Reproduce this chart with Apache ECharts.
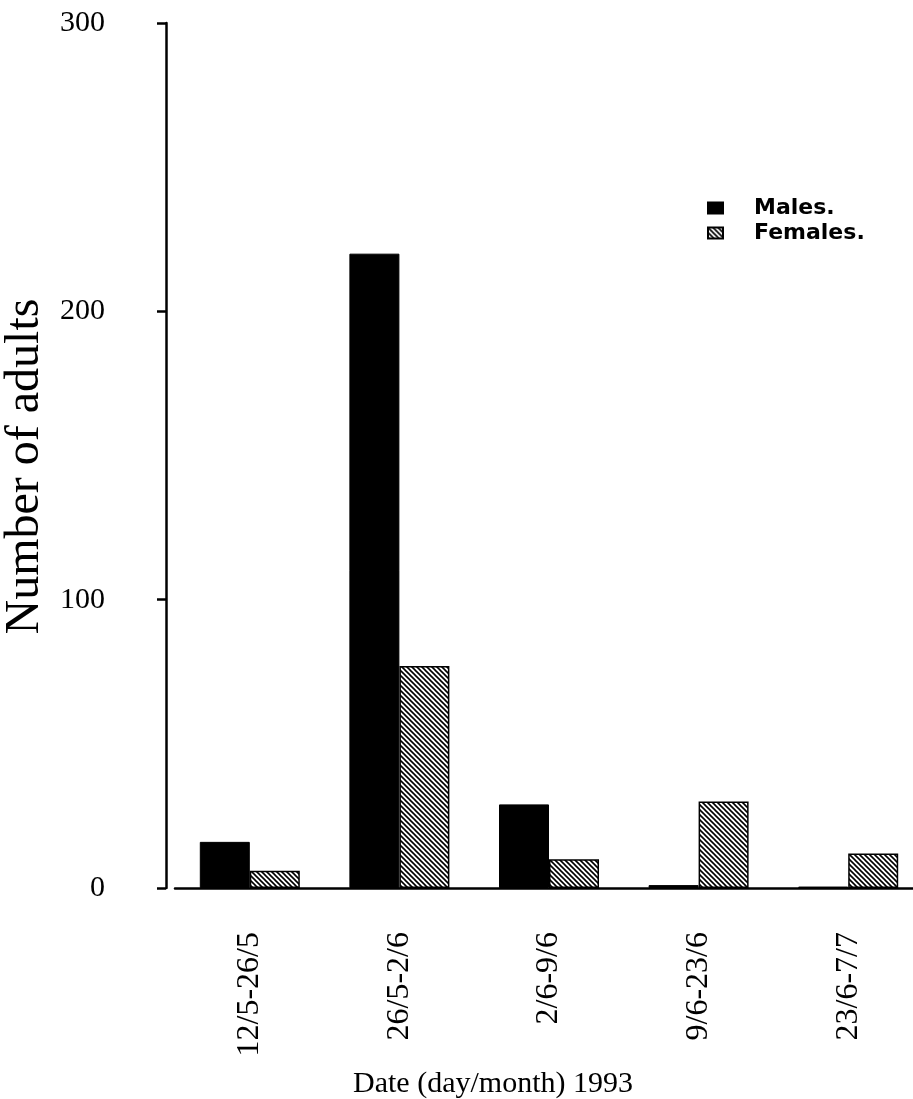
<!DOCTYPE html>
<html>
<head>
<meta charset="utf-8">
<script src="https://cdn.jsdelivr.net/npm/echarts@6/dist/echarts.min.js"></script>
<style>
html,body{margin:0;padding:0;background:#fff;overflow:hidden;}
#chart{width:913px;height:1099px;}
</style>
</head>
<body>
<div id="chart"></div>
<script>
// ---- data ----
const categories = ['12/5-26/5', '26/5-2/6', '2/6-9/6', '9/6-23/6', '23/6-7/7'];
const males = [16, 220, 29, 1, 0.5];
const females = [6, 77, 10, 30, 12];
const yTicks = [0, 100, 200, 300];
const seriesNames = ['Males.', 'Females.'];

// hatch pattern (diagonal "\" lines)
function makeHatch() {
  const s = 5;
  const c = document.createElement('canvas');
  c.width = s; c.height = s;
  const ctx = c.getContext('2d');
  ctx.fillStyle = '#ffffff';
  ctx.fillRect(0, 0, s, s);
  ctx.strokeStyle = '#000000';
  ctx.lineWidth = 1.6;
  for (let k = -1; k <= 1; k++) {
    ctx.beginPath();
    ctx.moveTo(k * s - 1, -1);
    ctx.lineTo(k * s + s + 1, s + 1);
    ctx.stroke();
  }
  return c;
}
const hatch = { image: makeHatch(), repeat: 'repeat' };

const chart = echarts.init(document.getElementById('chart'), null, { renderer: 'canvas' });
const serif = 'Liberation Serif';
chart.setOption({
  backgroundColor: '#ffffff',
  animation: false,
  grid: { left: 175, width: 748, top: 23, bottom: 211, containLabel: false, outerBoundsMode: 'none' },
  legend: {
    orient: 'vertical',
    left: 702,
    top: 192,
    itemWidth: 15,
    itemHeight: 11,
    itemGap: 3,
    icon: 'rect',
    data: seriesNames,
    textStyle: {
      fontFamily: 'DejaVu Sans',
      fontWeight: 'bold',
      fontSize: 22,
      color: '#000',
      padding: [0, 0, 0, 26]
    }
  },
  xAxis: {
    type: 'category',
    data: categories,
    name: 'Date (day/month) 1993',
    nameLocation: 'middle',
    nameGap: 181,
    nameTextStyle: { fontFamily: serif, fontSize: 30, color: '#000', padding: [0, 112, 0, 0] },
    axisLine: { lineStyle: { color: '#000', width: 2.5 } },
    axisTick: { alignWithLabel: true, length: 6, lineStyle: { color: '#000', width: 2 } },
    axisLabel: { rotate: 90, margin: 44, fontFamily: serif, fontSize: 32, color: '#000' },
    splitLine: { show: false }
  },
  yAxis: {
    type: 'value',
    min: 0,
    max: 300,
    interval: 100,
    offset: 9,
    name: 'Number of adults',
    nameLocation: 'middle',
    nameGap: 113,
    nameRotate: 90,
    nameTextStyle: { fontFamily: serif, fontSize: 48, color: '#000', padding: [0, 22, 0, 0] },
    axisLine: { show: true, lineStyle: { color: '#000', width: 2.5 } },
    axisTick: { show: true, length: 9, lineStyle: { color: '#000', width: 2.5 } },
    axisLabel: {
      margin: 61, fontFamily: serif, fontSize: 30, color: '#000',
      formatter: function (v) { return yTicks.indexOf(v) >= 0 ? String(v) : ''; }
    },
    splitLine: { show: false }
  },
  series: [
    {
      name: seriesNames[0],
      type: 'bar',
      data: males,
      barWidth: 50,
      barGap: '0%',
      itemStyle: { color: '#000000', borderColor: '#000', borderWidth: 1 }
    },
    {
      name: seriesNames[1],
      type: 'bar',
      data: females,
      barWidth: 50,
      barGap: '0%',
      itemStyle: { color: hatch, borderColor: '#000', borderWidth: 1.5 }
    }
  ]
});
</script>
</body>
</html>
